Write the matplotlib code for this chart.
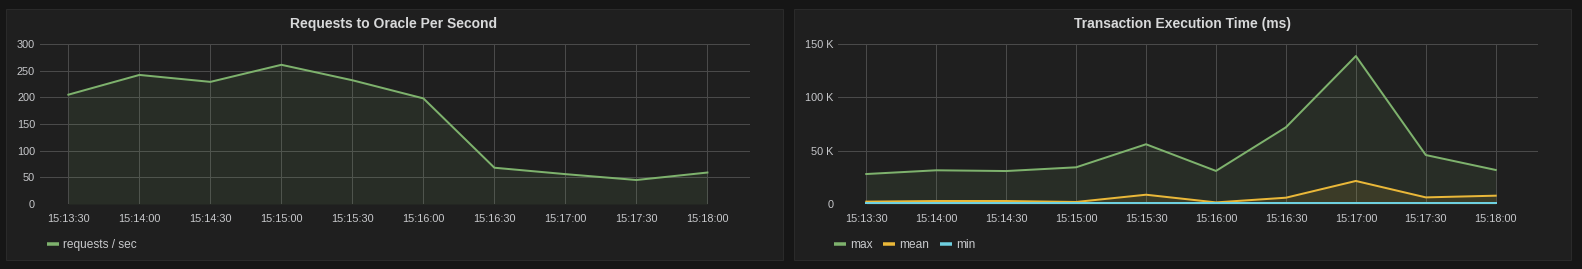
import matplotlib
matplotlib.use('Agg')
import matplotlib.pyplot as plt
from matplotlib.patches import Rectangle
from matplotlib.lines import Line2D
from datetime import datetime

# ---------------- data ----------------
times = ["15:13:30", "15:14:00", "15:14:30", "15:15:00", "15:15:30",
         "15:16:00", "15:16:30", "15:17:00", "15:17:30", "15:18:00"]
requests = [205, 242, 229, 261, 232, 198, 68, 56, 45, 59]
tx_max = [28100, 31600, 30900, 34400, 56000, 31000, 71900, 138700, 45900, 31900]
tx_mean = [2200, 2800, 2800, 1900, 8700, 1500, 5900, 21600, 6200, 7800]
tx_min = [500, 500, 500, 500, 500, 500, 500, 500, 500, 500]

left_yticks = [0, 50, 100, 150, 200, 250, 300]
left_ylabels = ["0", "50", "100", "150", "200", "250", "300"]
right_yticks = [0, 50000, 100000, 150000]
right_ylabels = ["0", "50 K", "100 K", "150 K"]
x_range = ["15:13:18", "15:18:18"]

titles = ["Requests to Oracle Per Second", "Transaction Execution Time (ms)"]

# ---------------- style ----------------
W, H = 1582, 269
DPI = 100
PAGE_BG = '#161616'
PANEL_BG = '#1f1f1f'
PANEL_EDGE = '#2a2a2a'
GRID = '#4a4a4a'
TICK_C = '#c8c9cc'
TITLE_C = '#d8d9da'
GREEN = '#7eb26d'
YELLOW = '#eab839'
CYAN = '#6ed0e0'
FONT = 'Liberation Sans'

plt.rcParams['font.family'] = [FONT, 'DejaVu Sans']

def px2pt(p):
    return p * 72.0 / DPI

def to_dt(t):
    return datetime.strptime("2000-01-01 " + t, "%Y-%m-%d %H:%M:%S")

xs = [to_dt(t) for t in times]
xlim = [to_dt(t) for t in x_range]

fig = plt.figure(figsize=(W / DPI, H / DPI), dpi=DPI, facecolor=PAGE_BG)

def fx(x):
    return x / W

def fy(y):
    return 1 - y / H

def add_panel(x0, y0, x1, y1):
    r = Rectangle((fx(x0), fy(y1)), fx(x1) - fx(x0), fy(y0) - fy(y1),
                  transform=fig.transFigure, facecolor=PANEL_BG,
                  edgecolor=PANEL_EDGE, linewidth=px2pt(1), zorder=-10)
    fig.patches.append(r)

add_panel(5.5, 9.5, 782.5, 260)
add_panel(793.5, 9.5, 1570.5, 260)

def make_axes(x0, y0, x1, y1):
    ax = fig.add_axes([fx(x0), fy(y1), fx(x1) - fx(x0), fy(y0) - fy(y1)])
    ax.set_zorder(5)
    ax.patch.set_visible(False)
    for s in ax.spines.values():
        s.set_visible(False)
    ax.grid(True, color=GRID, linewidth=px2pt(1))
    ax.set_axisbelow(True)
    ax.tick_params(length=0, colors=TICK_C, labelsize=7.8)
    ax.tick_params(axis='x', pad=px2pt(10))
    ax.tick_params(axis='y', pad=px2pt(5))
    ax.set_xlim(xlim)
    ax.set_xticks(xs)
    ax.set_xticklabels(times)
    return ax

LW = px2pt(2)

ax1 = make_axes(40, 44, 750, 204)
ax1.set_ylim(0, 300)
ax1.set_yticks(left_yticks)
ax1.set_yticklabels(left_ylabels)
ax1.fill_between(xs, requests, 0, color=GREEN, alpha=0.1, linewidth=0)
ax1.plot(xs, requests, color=GREEN, linewidth=LW)

ax2 = make_axes(838.3, 44, 1537.7, 204)
ax2.set_ylim(0, 150000)
ax2.set_yticks(right_yticks)
ax2.set_yticklabels(right_ylabels)
for vals, c in [(tx_max, GREEN), (tx_mean, YELLOW), (tx_min, CYAN)]:
    ax2.fill_between(xs, vals, 0, color=c, alpha=0.1, linewidth=0)
for vals, c in [(tx_max, GREEN), (tx_mean, YELLOW), (tx_min, CYAN)]:
    ax2.plot(xs, vals, color=c, linewidth=LW)

# titles
fig.text(fx((5 + 783) / 2), fy(24), titles[0], ha='center', va='center',
         color=TITLE_C, fontsize=10, fontweight='bold', zorder=10)
fig.text(fx((793 + 1571) / 2), fy(24), titles[1], ha='center', va='center',
         color=TITLE_C, fontsize=10, fontweight='bold', zorder=10)

# legends (manual, grafana style)
renderer = fig.canvas.get_renderer()

def legend(x_start, y, items):
    x = x_start
    for label, c in items:
        fig.add_artist(Line2D([fx(x), fx(x + 12)], [fy(y), fy(y)],
                              transform=fig.transFigure, color=c,
                              linewidth=px2pt(3.5), solid_capstyle='butt',
                              zorder=10))
        t = fig.text(fx(x + 16.5), fy(y), label, ha='left', va='center_baseline',
                     color=TICK_C, fontsize=8.6, zorder=10)
        bb = t.get_window_extent(renderer=renderer)
        x = bb.x1 + 10

legend(46.5, 243.5, [("requests / sec", GREEN)])
legend(834, 243.5, [("max", GREEN), ("mean", YELLOW), ("min", CYAN)])

fig.savefig('out.png', dpi=DPI, facecolor=PAGE_BG)
